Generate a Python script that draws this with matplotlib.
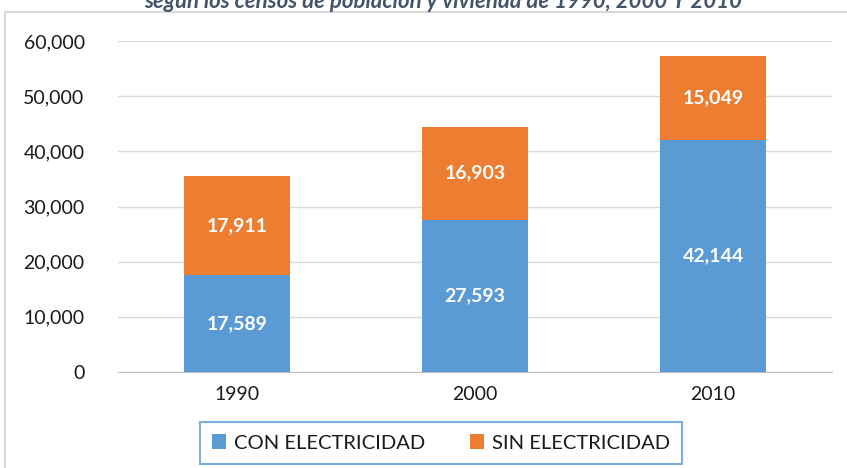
import matplotlib.pyplot as plt
from matplotlib.patches import Rectangle
from matplotlib.ticker import FuncFormatter

years = ['1990', '2000', '2010']
con_elec = [17589, 27593, 42144]
sin_elec = [17911, 16903, 15049]
series_names = ['CON ELECTRICIDAD', 'SIN ELECTRICIDAD']
title = 'según los censos de población y vivienda de 1990, 2000 Y 2010'

plt.rcParams['font.family'] = ['Lato', 'DejaVu Sans']

W, H = 847, 468
fig = plt.figure(figsize=(W / 100, H / 100), dpi=100)

# chart frame (only top-left part visible in the crop)
fig.patches.append(Rectangle((5 / W, -0.05), 1.1, 1 - 12 / H + 0.05, transform=fig.transFigure,
                             fill=False, edgecolor='#d9d9d9', linewidth=1.5))

# title sits mostly above the cropped image, as in the original
fig.text(443 / W, 1 - 8 / H, title, ha='center', va='baseline', fontsize=16,
         fontweight='bold', style='italic', color='#44546A')

ax = fig.add_axes([118 / W, 1 - 372 / H, (832 - 118) / W, (372 - 41) / H])

x = range(len(years))
blue, orange = '#5B9BD5', '#ED7D31'
ax.bar(x, con_elec, width=0.445, color=blue, label=series_names[0], zorder=3)
ax.bar(x, sin_elec, width=0.445, bottom=con_elec, color=orange, label=series_names[1], zorder=3)

for i in x:
    ax.text(i, con_elec[i] / 2, f'{con_elec[i]:,}', ha='center', va='center',
            color='white', fontsize=14, fontweight='bold', zorder=4)
    ax.text(i, con_elec[i] + sin_elec[i] / 2, f'{sin_elec[i]:,}', ha='center', va='center',
            color='white', fontsize=14, fontweight='bold', zorder=4)

ax.set_ylim(0, 60000)
ax.set_xlim(-0.5, 2.5)
ax.set_yticks(range(0, 60001, 10000))
ax.yaxis.set_major_formatter(FuncFormatter(lambda v, p: f'{int(v):,}'))
ax.set_xticks(list(x))
ax.set_xticklabels(years)
ax.tick_params(axis='y', length=0, pad=24, labelsize=14, colors='#1a1a1a')
ax.tick_params(axis='x', length=0, pad=10, labelsize=14, colors='#1a1a1a')
ax.grid(axis='y', color='#d9d9d9', linewidth=1, zorder=0)
for s in ['top', 'right', 'left']:
    ax.spines[s].set_visible(False)
ax.spines['bottom'].set_color('#bfbfbf')

leg = fig.legend(loc='center', bbox_to_anchor=(441 / W, 1 - 443 / H), ncol=2, fontsize=14.5,
                 frameon=True, fancybox=False, edgecolor=blue, handlelength=0.7,
                 handleheight=0.7, handletextpad=0.4, columnspacing=2.2, borderpad=0.6,
                 borderaxespad=0)
leg.get_frame().set_linewidth(1.5)
for t in leg.get_texts():
    t.set_color('#1a1a1a')

fig.savefig('out.png', dpi=100)
